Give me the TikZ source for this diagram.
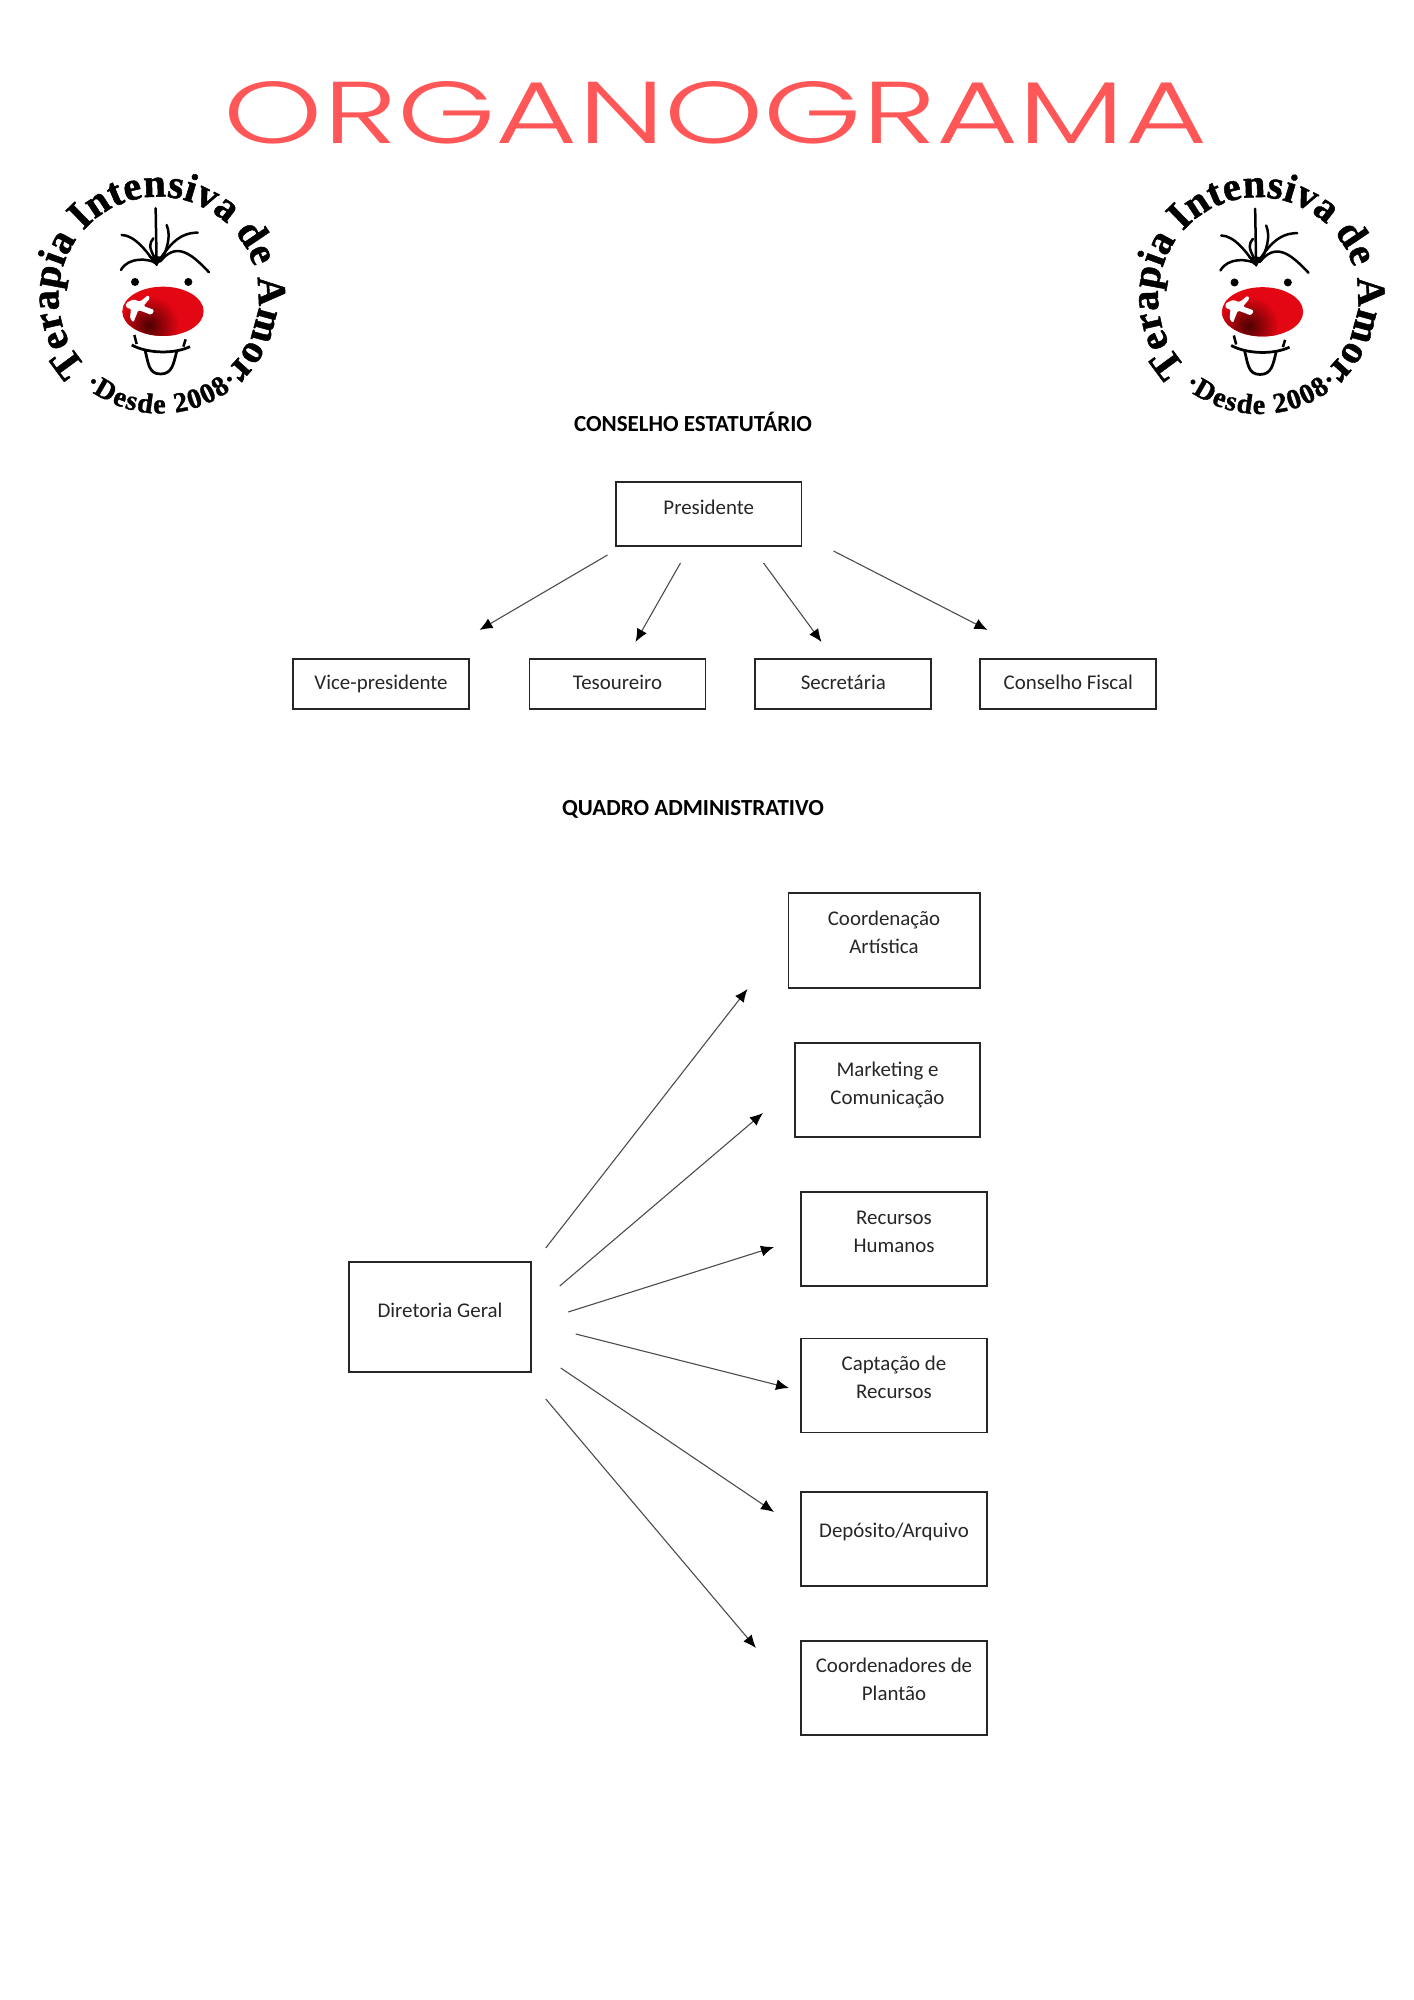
\documentclass[tikz,border=0pt]{standalone}
\usepackage{fontspec}
\usepackage{graphicx}
\setmainfont{Carlito}
\newfontfamily\titulofonte{Poppins Light}
\newfontfamily\carimbofonte{Liberation Serif}[BoldFeatures={FakeBold=1.2}]
\usetikzlibrary{arrows.meta,decorations.text}
\definecolor{coral}{HTML}{FF5757}
\definecolor{nariz}{HTML}{E30613}
\tikzset{
	caixa/.style={draw=black!85, line width=.35mm, align=center, inner sep=0pt, text=black!85, font=\fontsize{11.9}{15.9}\selectfont},
	secao/.style={inner sep=0pt, font=\fontsize{13.1}{15}\selectfont\bfseries},
	seta/.style={draw=black!70, line width=.22mm, -{Latex[length=2.6mm,width=2.2mm,black]}},
	carimbo/.pic={
		%texto em volta
		\path[decorate, decoration={text along path, text align={fit to path},
			text={|\carimbofonte\bfseries\fontsize{23}{23}\selectfont|Terapia Intensiva de Amor}}]
			([shift={(-.6,-.25)}]224:20) arc[start angle=224, end angle=-47, radius=20];
		\path[decorate, decoration={text along path, text align={fit to path},
			text={|\carimbofonte\bfseries\fontsize{16}{16}\selectfont|·Desde 2008·}}]
			([shift={(-.3,0)}]230:23.6) arc[start angle=230, end angle=312, radius=23.6];
		%cabelo
		\draw[line width=.5mm, line cap=round] (-1.17,17.43) -- (-0.97,6.1);
		\draw[line width=.5mm, line cap=round] (-7.97,12.1) .. controls (-5.3,12.1) and (-2.63,8.43) .. (-1.3,6.43);
		\draw[line width=.5mm, line cap=round] (-8.1,5.1) .. controls (-6.63,7.77) and (-2.63,7.43) .. (-.97,6.43);
		\draw[line width=.5mm, line cap=round] (7.23,12.57) .. controls (3.37,12.57) and (1.37,9.77) .. (-.63,6.77);
		\draw[line width=.5mm, line cap=round] (9.5,4.63) .. controls (5.37,9.1) and (2.7,10.43) .. (-.3,6.77);
		\draw[line width=.5mm, line cap=round] (1.03,14.1) .. controls (2,11.77) and (1,9) .. (0,7.1);
		\draw[line width=.5mm, line cap=round] (-1.3,7.43) .. controls (-2.63,9.77) and (-2.4,10.4) .. (-1.63,11.43);
		\fill (-2.6,7.8) -- (.4,7.8) -- (-.97,5.9) -- cycle;
		%olhos
		\fill (-5.3,2.7) circle[radius=.8];
		\fill (5.37,2.7) circle[radius=.8];
		%nariz
		\fill[nariz] (.3,-3.17) ellipse[x radius=8.13, y radius=4.93];
		\begin{scope}
			\clip (.3,-3.17) ellipse[x radius=8.13, y radius=4.93];
			\shade[inner color=black!70!red, outer color=nariz] (-2.5,-6) circle[radius=6];
		\end{scope}
		\fill[white, rounded corners=.3mm] (-7.17,-1.57) -- (-5.63,-.77) -- (-4.3,-1.23) -- (-2.63,.1) -- (-2.3,-.57) -- (-3.63,-2.1) -- (-1.43,-2.9) -- (-1.97,-3.9) -- (-4.63,-2.9) -- (-5.63,-5.43) -- (-6.3,-4.57) -- (-6.1,-2.57) -- (-6.97,-2.57) -- cycle;
		%boca
		\draw[line width=.55mm] (-5.97,-9.9) .. controls (-2.63,-11.7) and (2.7,-11.7) .. (5.7,-10.23);
		\draw[line width=.5mm] (-5.43,-7.9) -- (-4.97,-9.7);
		\draw[line width=.5mm] (4.83,-8.77) -- (4.37,-10.23);
		\draw[line width=.55mm] (-3.3,-10.9) .. controls (-2.6,-13.6) and (-2.6,-15.7) .. (-.2,-15.7) .. controls (2.2,-15.7) and (2.4,-13.6) .. (3.03,-11.23);
	}
}
\begin{document}
\begin{tikzpicture}[x=1mm,y=1mm]
	\useasboundingbox (0,0) rectangle (282.8,400);
	%titulo
	\node[inner sep=0pt, text=coral] (titulo) at (143.1,377.5) {\resizebox{196.6mm}{12.4mm}{\titulofonte ORGANOGRAMA}};
	%logos
	\pic at (32.3,340.9) {carimbo};
	\pic at (252.2,340.8) {carimbo};

	%Conselho
	\node[secao] (conselho) at (138.6,315.65) {CONSELHO ESTATUTÁRIO};
	\node[caixa, minimum width=37.1mm, minimum height=12.8mm] (presidente) at (141.75,297.2) {Presidente\\[-8pt]\mbox{}};
	\node[caixa, minimum width=35.2mm, minimum height=10mm] (vice) at (76.2,263.2) {Vice-presidente\vphantom{dp}};
	\node[caixa, minimum width=35.2mm, minimum height=10mm] (tesoureiro) at (123.5,263.2) {Tesoureiro\vphantom{dp}};
	\node[caixa, minimum width=35.2mm, minimum height=10mm] (secretaria) at (168.66,263.2) {Secretária\vphantom{dp}};
	\node[caixa, minimum width=35.2mm, minimum height=10mm] (fiscal) at (213.66,263.2) {Conselho Fiscal\vphantom{dp}};
	\coordinate (presA) at (121.5,289);
	\coordinate (presB) at (136.1,287.4);
	\coordinate (presC) at (152.7,287.4);
	\coordinate (presD) at (166.7,289.8);
	\coordinate (viceTop) at (95.9,274);
	\coordinate (tesTop) at (127.1,271.6);
	\coordinate (secTop) at (164.3,271.6);
	\coordinate (fiscalTop) at (197.5,274);
	\draw[seta] (presA) -- (viceTop);
	\draw[seta] (presB) -- (tesTop);
	\draw[seta] (presC) -- (secTop);
	\draw[seta] (presD) -- (fiscalTop);

	%Quadro
	\node[secao] (quadro) at (138.6,238.15) {QUADRO ADMINISTRATIVO};
	\node[caixa, minimum width=36.4mm, minimum height=22mm] (diretoria) at (88,136.6) {Diretoria Geral\\[-8pt]\mbox{}};
	\node[caixa, minimum width=38.25mm, minimum height=19mm] (artistica) at (176.8,211.9) {Coordenação\\Artística\\[-6pt]\mbox{}};
	\node[caixa, minimum width=37mm, minimum height=18.8mm] (marketing) at (177.5,182) {Marketing e\\Comunicação\\[-8pt]\mbox{}};
	\node[caixa, minimum width=37.1mm, minimum height=18.8mm] (recursos) at (178.8,152.2) {Recursos\\Humanos\\[-8pt]\mbox{}};
	\node[caixa, minimum width=37.1mm, minimum height=18.8mm] (captacao) at (178.8,122.9) {Captação de\\Recursos\\[-6pt]\mbox{}};
	\node[caixa, minimum width=37.1mm, minimum height=18.8mm] (deposito) at (178.8,92.2) {Depósito/Arquivo\\[-6pt]\mbox{}};
	\node[caixa, minimum width=37.1mm, minimum height=18.8mm] (plantao) at (178.8,62.4) {Coordenadores de\\Plantão\\[-6pt]\mbox{}};
	\coordinate (dirA) at (109.15,150.4);
	\coordinate (dirB) at (111.95,142.8);
	\coordinate (dirC) at (113.65,137.6);
	\coordinate (dirD) at (115.15,133.2);
	\coordinate (dirE) at (112.15,126.4);
	\coordinate (dirF) at (109.15,120.2);
	\coordinate (artTip) at (149.5,202.2);
	\coordinate (mktTip) at (152.6,177.4);
	\coordinate (recTip) at (154.8,150.6);
	\coordinate (capTip) at (157.8,122.4);
	\coordinate (depTip) at (154.8,97.6);
	\coordinate (plaTip) at (151.2,70.4);
	\draw[seta] (dirA) -- (artTip);
	\draw[seta] (dirB) -- (mktTip);
	\draw[seta] (dirC) -- (recTip);
	\draw[seta] (dirD) -- (capTip);
	\draw[seta] (dirE) -- (depTip);
	\draw[seta] (dirF) -- (plaTip);
\end{tikzpicture}
\end{document}
